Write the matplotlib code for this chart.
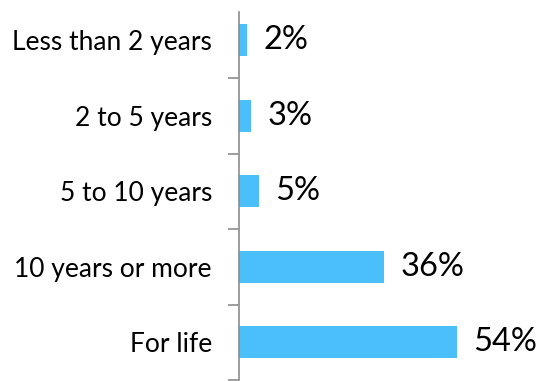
import matplotlib.pyplot as plt
from matplotlib.ticker import FixedLocator

categories = ["Less than 2 years", "2 to 5 years", "5 to 10 years", "10 years or more", "For life"]
values = [2, 3, 5, 36, 54]
value_labels = ["2%", "3%", "5%", "36%", "54%"]

W, H = 540, 381
fig = plt.figure(figsize=(W / 100, H / 100), dpi=100)
# axes from x=239px to right edge, y=12px to 380px
ax = fig.add_axes([239 / W, (H - 380) / H, (W - 239) / W, (380 - 12) / H])

pos = list(range(len(categories)))
ax.barh(pos, values, height=0.42, color="#4BBFFA")

px_per_pct = 4.04
ax.set_xlim(0, (W - 239) / px_per_pct)
ax.set_ylim(4.5, -0.5 + (12 - 2.5) / 75.5)

for s in ["top", "right", "bottom"]:
    ax.spines[s].set_visible(False)
ax.spines["left"].set_color("#8c8c8c")
ax.spines["left"].set_linewidth(1.2)

ax.set_xticks([])
ax.yaxis.set_major_locator(FixedLocator([0.5, 1.5, 2.5, 3.5, 4.5]))
ax.yaxis.set_major_formatter(plt.NullFormatter())
ax.tick_params(axis="y", which="major", length=8, width=1.2, color="#8c8c8c")
ax.set_yticks(pos, minor=True)
ax.set_yticklabels(categories, minor=True, fontsize=19, family="Lato")
ax.tick_params(axis="y", which="minor", length=0, pad=19.5)

for p, v, lab in zip(pos, values, value_labels):
    ax.annotate(lab, (v, p), xytext=(11.5, 0), textcoords="offset points",
                va="center", ha="left", fontsize=23.5, family="Lato")

fig.savefig("out.png", dpi=100)
